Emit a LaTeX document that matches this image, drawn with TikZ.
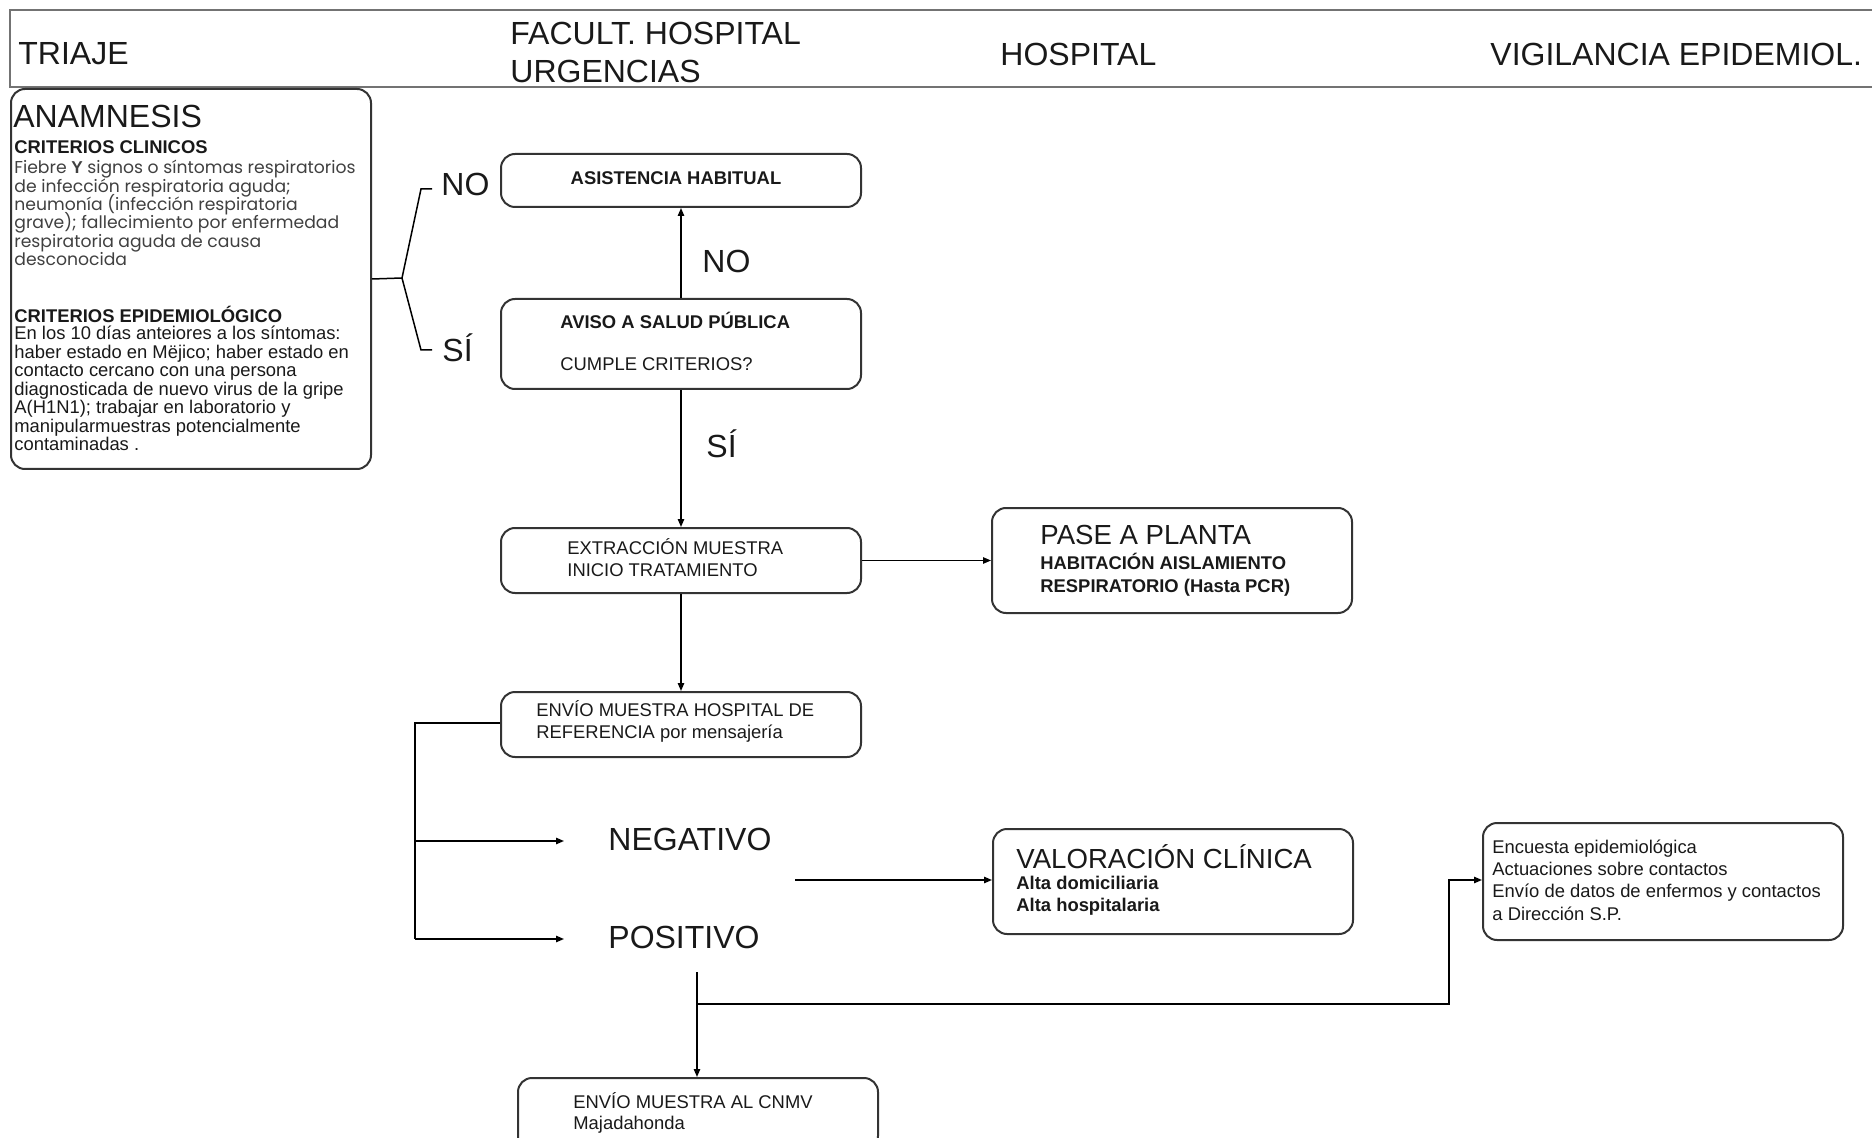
\documentclass[tikz,border=0pt]{standalone}
\usepackage{fontspec}
\setmainfont{Liberation Sans}
\newfontfamily\gothic{Poppins}
\usetikzlibrary{arrows.meta}
\lineskiplimit=-100pt
\begin{document}
\begin{tikzpicture}[x=0.5pt,y=-0.5pt,
  box/.style={draw=black!80, line width=1pt, rounded corners=7pt, anchor=north west, inner sep=0pt},
  conn/.style={line width=0.75pt, draw=black},
  arr/.style={conn, -{Triangle[length=4pt,width=3.2pt]}},
  txt/.style={inner sep=0pt, align=left, text=black!90, anchor=west},
  fs/.style={font=\fontsize{9.2pt}{11pt}\selectfont},
  fsb/.style={font=\fontsize{9.2pt}{11pt}\selectfont\bfseries},
  fbig/.style={font=\fontsize{16pt}{19pt}\selectfont},
  fmid/.style={font=\fontsize{13.8pt}{16pt}\selectfont},
  hline/.style={line width=1.2pt, draw=black!55}]
\useasboundingbox (0,0) rectangle (1872,1138);
\clip (0,0) rectangle (1872,1138);

% header
\draw[hline] (1872,10) -- (10,10) -- (10,87) -- (1872,87);
\node[txt,fbig] (h1) at (18,54) {TRIAJE};
\node[txt,fbig] (h2) at (510,52) {FACULT. HOSPITAL\\URGENCIAS};
\node[txt,fbig] (h3) at (1000,54) {HOSPITAL};
\node[txt,fbig] (h4) at (1490,54) {VIGILANCIA EPIDEMIOL.};

% boxes
\node[box, minimum width=180pt, minimum height=190pt] (anam) at (10,88) {};
\node[box, minimum width=180pt, minimum height=26.5pt] (asist) at (500,153) {};
\node[box, minimum width=180pt, minimum height=45pt] (aviso) at (500,298) {};
\node[box, minimum width=180pt, minimum height=32.5pt] (extr) at (500,527) {};
\node[box, minimum width=180pt, minimum height=52.5pt] (pase) at (991,507) {};
\node[box, minimum width=180pt, minimum height=32.5pt] (envio) at (500,691) {};
\node[box, minimum width=180pt, minimum height=52.5pt] (valor) at (992,828) {};
\node[box, minimum width=180pt, minimum height=58.5pt] (encu) at (1482,822) {};
\node[box, minimum width=180pt, minimum height=36pt] (cnmv) at (517,1077) {};

% anamnesis text
\node[txt,fbig] (anT) at (13,116) {ANAMNESIS};
\node[txt,fsb] (cc) at (14,147) {CRITERIOS CLINICOS};
\node[txt, font=\gothic\fontsize{8.6pt}{9.2pt}\selectfont, text=black!75] (cl) at (14,213)
  {Fiebre {\rmfamily\bfseries Y} signos o síntomas respiratorios\\de infección respiratoria aguda;\\neumonía (infección respiratoria\\grave); fallecimiento por enfermedad\\respiratoria aguda de causa\\desconocida};
\node[txt,fsb] (ce) at (14,314) {CRITERIOS EPIDEMIOLÓGICO};
\node[txt, font=\fontsize{9.2pt}{9.25pt}\selectfont] (ep) at (14,388.5)
  {En los 10 días anteiores a los síntomas:\\haber estado en Mëjico; haber estado en\\contacto cercano con una persona\\diagnosticada de nuevo virus de la gripe\\A(H1N1); trabajar en laboratorio y\\manipularmuestras potencialmente\\contaminadas .};

% brace
\coordinate (bv) at (402,278);
\coordinate (bno) at (432,189);
\coordinate (bsi) at (432,350);
\draw[conn] (anam.east) -- (bv);
\draw[conn] (bv) -- (421,189) -- (bno);
\draw[conn] (bv) -- (421,350) -- (bsi);
\node[txt,fbig] (lno) at (441,184) {NO};
\node[txt,fbig] (lsi) at (442,348) {SÍ};

% box texts
\node[fsb, inner sep=0pt, text=black!90] (asT) at (676,178) {ASISTENCIA HABITUAL};
\node[txt,fsb] (avT1) at (560,320) {AVISO A SALUD PÚBLICA};
\node[txt,fs] (avT2) at (560,364) {CUMPLE CRITERIOS?};
\node[txt,fs] (exT) at (567,558) {EXTRACCIÓN MUESTRA\\INICIO TRATAMIENTO};
\node[txt,fmid] (paT1) at (1040,535) {PASE A PLANTA};
\node[txt,font=\fontsize{9.2pt}{11.5pt}\selectfont\bfseries] (paT2) at (1040,574.5) {HABITACIÓN AISLAMIENTO\\RESPIRATORIO (Hasta PCR)};
\node[txt,fs] (enT) at (536,721) {ENVÍO MUESTRA HOSPITAL DE\\REFERENCIA por mensajería};
\node[txt,fbig] (neg) at (608,839) {NEGATIVO};
\node[txt,fbig] (pos) at (608,937) {POSITIVO};
\node[txt,fmid] (vaT1) at (1016,857) {VALORACIÓN CLÍNICA};
\node[txt,fsb] (vaT2) at (1016,896) {Alta domiciliaria\\Alta hospitalaria};
\node[txt,font=\fontsize{9.2pt}{11.15pt}\selectfont] (enc) at (1492,880) {Encuesta epidemiológica\\Actuaciones sobre contactos\\Envío de datos de enfermos y contactos\\a Dirección S.P.};
\node[txt,font=\fontsize{9.2pt}{10.5pt}\selectfont] (cnT) at (573,1113) {ENVÍO MUESTRA AL CNMV\\Majadahonda};

% mid labels
\node[txt,fbig] (mno) at (702,261) {NO};
\node[txt,fbig] (msi) at (706,444) {SÍ};

% connectors
\draw[arr] (aviso.north) -- (asist.south);
\draw[arr] (aviso.south) -- (extr.north);
\draw[arr] (extr.east) -- (pase.west);
\draw[arr] (extr.south) -- (envio.north);

\coordinate (lt) at (415,723);
\coordinate (lm) at (415,841);
\coordinate (lb) at (415,939);
\coordinate (negE) at (564,841);
\coordinate (posE) at (564,939);
\draw[conn] (envio.west |- lt) -- (lt) -- (lb);
\draw[arr] (lm) -- (negE);
\draw[arr] (lb) -- (posE);

\coordinate (nv) at (795,880);
\draw[arr] (nv) -- (valor.west |- nv);

\coordinate (ps) at (697,972);
\coordinate (pb) at (697,1004);
\coordinate (pr) at (1449,1004);
\coordinate (pu) at (1449,880);
\draw[arr] (ps) -- (ps |- cnmv.north);
\draw[arr] (pb) -- (pr) -- (pu) -- (encu.west |- pu);
\end{tikzpicture}
\end{document}
